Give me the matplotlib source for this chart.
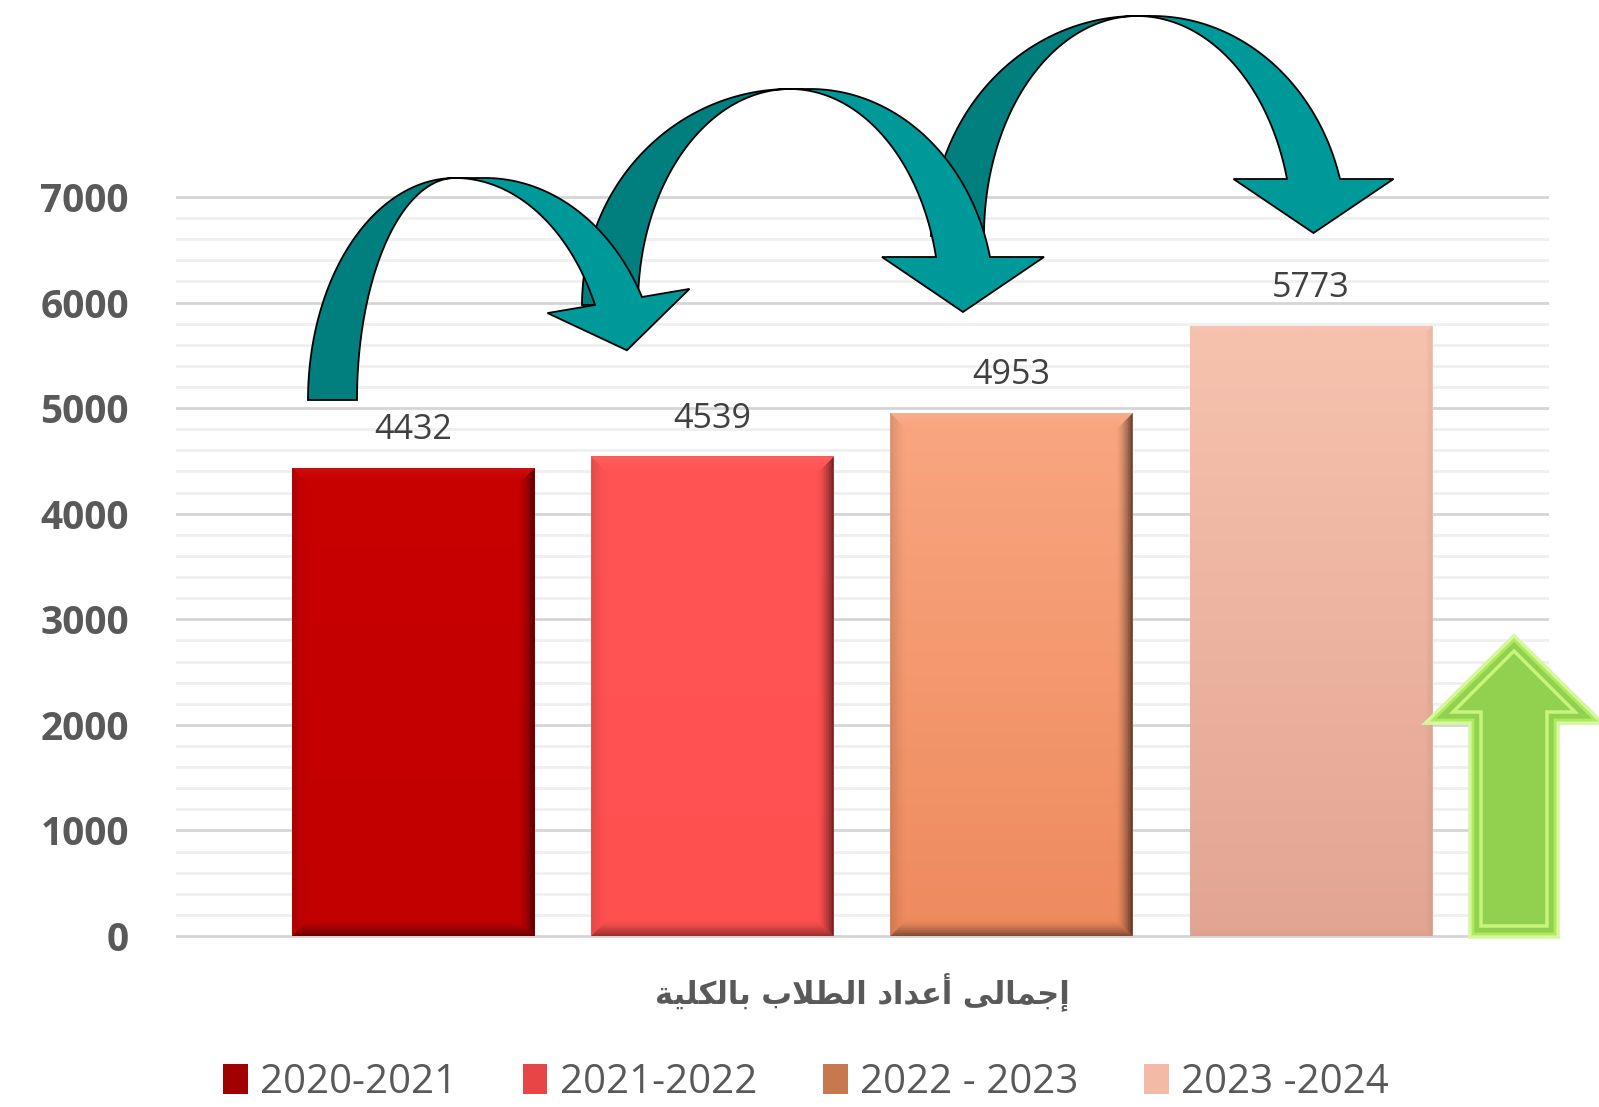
import numpy as np
import matplotlib
matplotlib.use('Agg')
import matplotlib.pyplot as plt
from matplotlib.patches import Polygon, Patch
from matplotlib.colors import to_rgb

plt.rcParams['font.family'] = ['Open Sans', 'DejaVu Sans']

# data
years = ['2020-2021', '2021-2022', '2022 - 2023', '2023 -2024']
students = [4432, 4539, 4953, 5773]
bar_tops = ['#C80000', '#FF5454', '#F9A680', '#F6C2AE']
bar_bottoms = ['#C20000', '#FF5050', '#EE8A5E', '#E2A593']
legend_colors = ['#A00000', '#E84646', '#C8784E', '#F3BBA5']
y_ticks = list(range(0, 7001, 1000))

# axis title "إجمالى أعداد الطلاب بالكلية", pre-shaped (presentation forms)
# because matplotlib does no Arabic shaping / bidi
shaped = ('\uFE87\uFE9F\uFEE4\uFE8E\uFEDF\uFEF0 '
          '\uFE83\uFECB\uFEAA\uFE8D\uFEA9 '
          '\uFE8D\uFEDF\uFEC4\uFEFC\uFE8F '
          '\uFE91\uFE8E\uFEDF\uFEDC\uFEE0\uFEF4\uFE94')
x_title = shaped[::-1]

W, H = 1599, 1107
fig = plt.figure(figsize=(W / 100, H / 100), dpi=100)
ax = fig.add_axes([176 / W, 1 - 940.2 / H, (1549 - 176) / W, (940.2 - 192.8) / H])

x = np.arange(len(students))
bw = 0.81
bars = ax.bar(x, students, width=bw, color=bar_tops, zorder=3)

# vertical gradient inside each bar
for xi, v, c0, c1 in zip(x, students, bar_tops, bar_bottoms):
    g = np.linspace(0, 1, 120)[:, None, None]
    rgb = (1 - g) * np.array(to_rgb(c0)) + g * np.array(to_rgb(c1))
    ax.imshow(rgb, extent=(xi - bw / 2, xi + bw / 2, 0, v), aspect='auto',
              zorder=3.1, interpolation='bilinear')

ax.set_xlim(-0.794, 3.797)
ax.set_ylim(-40, 7040)

# bevel shading on the bars
ppx = ax.bbox.width / (3.797 + 0.794)
ppy = ax.bbox.height / 7080


def bevel(x0, x1, h, size, dark_b, dark_r, dark_l, light_t):
    n = 10
    for k in range(n):
        d1, d2 = k * size / n, (k + 1) * size / n
        f = (1 - k / n) ** 1.6
        a1, b1 = d1 / ppx, d1 / ppy
        a2, b2 = d2 / ppx, d2 / ppy
        sides = [
            ([(x0 + a1, b1), (x1 - a1, b1), (x1 - a2, b2), (x0 + a2, b2)], 'k', dark_b),
            ([(x1 - a1, b1), (x1 - a1, h - b1), (x1 - a2, h - b2), (x1 - a2, b2)], 'k', dark_r),
            ([(x0 + a1, b1), (x0 + a1, h - b1), (x0 + a2, h - b2), (x0 + a2, b2)], 'k', dark_l),
            ([(x0 + a1, h - b1), (x1 - a1, h - b1), (x1 - a2, h - b2), (x0 + a2, h - b2)], 'w', light_t),
        ]
        for pts, c, amax in sides:
            if amax > 0:
                ax.add_patch(Polygon(pts, closed=True, facecolor=c, edgecolor='none',
                                     alpha=amax * f, zorder=3.2))


bevel_style = [(16, 0.45, 0.55, 0.10, 0.06),
               (16, 0.40, 0.55, 0.10, 0.06),
               (16, 0.45, 0.60, 0.12, 0.10),
               (8, 0.03, 0.05, 0.0, 0.05)]
for xi, v, st in zip(x, students, bevel_style):
    bevel(xi - bw / 2, xi + bw / 2, v, *st)

# data labels
for xi, v in zip(x, students):
    ax.annotate(str(v), (xi, v), xytext=(0, 21), textcoords='offset points',
                ha='center', va='baseline', fontsize=24.5, color='#404040', zorder=6)

# grid and axes
ax.set_yticks(y_ticks)
ax.set_yticks(range(0, 7001, 200), minor=True)
ax.set_xticks([])
ax.grid(which='minor', axis='y', color='#EFEFEF', lw=2.0, zorder=0)
ax.grid(which='major', axis='y', color='#D5D5D5', lw=2.0, zorder=0)
ax.set_axisbelow(True)
ax.tick_params(which='both', length=0)
ax.tick_params(axis='y', labelsize=28, labelcolor='#595959', pad=34)
for lbl in ax.get_yticklabels():
    lbl.set_fontweight('bold')
for s in ax.spines.values():
    s.set_visible(False)

# decorations in pixel space
deco = fig.add_axes([0, 0, 1, 1], zorder=5)
deco.set_xlim(0, W)
deco.set_ylim(H, 0)
deco.axis('off')
deco.patch.set_alpha(0)


def curved_arrow(apx, apy, cy, tail_out, tail_in, end_out, end_in, hw, hl, delta, z):
    B = cy - apy
    # back (dark) half of the ribbon, from the tail up to the twist
    t = np.linspace(np.pi, np.pi / 2, 90)
    rol, ril = apx - tail_out, apx - tail_in
    lo = np.c_[apx + rol * np.cos(t), cy - B * np.sin(t)]
    li = np.c_[apx + ril * np.cos(t), cy - B * np.sin(t)]
    deco.add_patch(Polygon(np.vstack([lo, li[::-1]]), closed=True, facecolor='#007F7E',
                           edgecolor='black', lw=1.3, joinstyle='miter', zorder=z))
    # front (light) half, from the twist down to the head
    so = np.arcsin((cy - end_out[1]) / B)
    si = np.arcsin((cy - end_in[1]) / B)
    ro_r = (end_out[0] - apx - delta) / np.cos(so)
    ri_r = (end_in[0] - apx) / np.cos(si)
    to = np.linspace(np.pi / 2, so, 90)
    ti = np.linspace(np.pi / 2, si, 90)
    ro_pts = np.c_[apx + delta + ro_r * np.cos(to), cy - B * np.sin(to)]
    ri_pts = np.c_[apx + ri_r * np.cos(ti), cy - B * np.sin(ti)]
    po, pi_ = ro_pts[-1], ri_pts[-1]
    mid = (po + pi_) / 2
    u = (po - pi_) / np.linalg.norm(po - pi_)
    nrm = np.array([-u[1], u[0]])
    if nrm[1] < 0:
        nrm = -nrm
    head = np.array([mid + u * hw, mid + nrm * hl, mid - u * hw])
    pts = np.vstack([[(apx, apy)], ro_pts, head, ri_pts[::-1]])
    deco.add_patch(Polygon(pts, closed=True, facecolor='#009999',
                           edgecolor='black', lw=1.3, joinstyle='miter', zorder=z + 0.1))


curved_arrow(1137, 16, 236, 931, 984, (1340, 179), (1287, 179), 80, 54, 15, 10)
curved_arrow(790, 89, 305, 582, 638, (990, 257), (936, 257), 81, 55, 20, 11)
curved_arrow(455, 178, 400, 308, 357, (642, 297), (595, 305), 72, 50, 30, 12)

# green up arrow
up = [(1473, 934), (1473, 720), (1433, 720), (1514, 640), (1595, 720), (1555, 720), (1555, 934)]
deco.add_patch(Polygon(up, closed=True, facecolor='none', edgecolor='#D6F7A0',
                       lw=7, joinstyle='miter', zorder=9))
deco.add_patch(Polygon(up, closed=True, facecolor='#92D050', edgecolor='#AEEA5C',
                       lw=2, joinstyle='miter', zorder=9.1))
inner = [(1481, 926), (1481, 712), (1453, 712), (1514, 651), (1575, 712), (1547, 712), (1547, 926)]
deco.add_patch(Polygon(inner, closed=True, facecolor='none', edgecolor='#C6F57C',
                       lw=2.5, joinstyle='miter', zorder=9.2))

# axis title
fig.text(862 / W, 1 - 993 / H, x_title, ha='center', va='center', fontsize=22,
         fontweight='bold', color='#595959', family=['DejaVu Sans'])

# legend
handles = [Patch(facecolor=c, edgecolor='none') for c in legend_colors]
fig.legend(handles, years, loc='center', bbox_to_anchor=(806 / W, 1 - 1083 / H), ncol=4,
           frameon=False, prop={'family': 'Open Sans', 'size': 29}, labelcolor='#595959',
           handlelength=0.6, handleheight=0.77, handletextpad=0.3, columnspacing=1.65,
           borderpad=0.1)

fig.savefig('out.png', dpi=100)
